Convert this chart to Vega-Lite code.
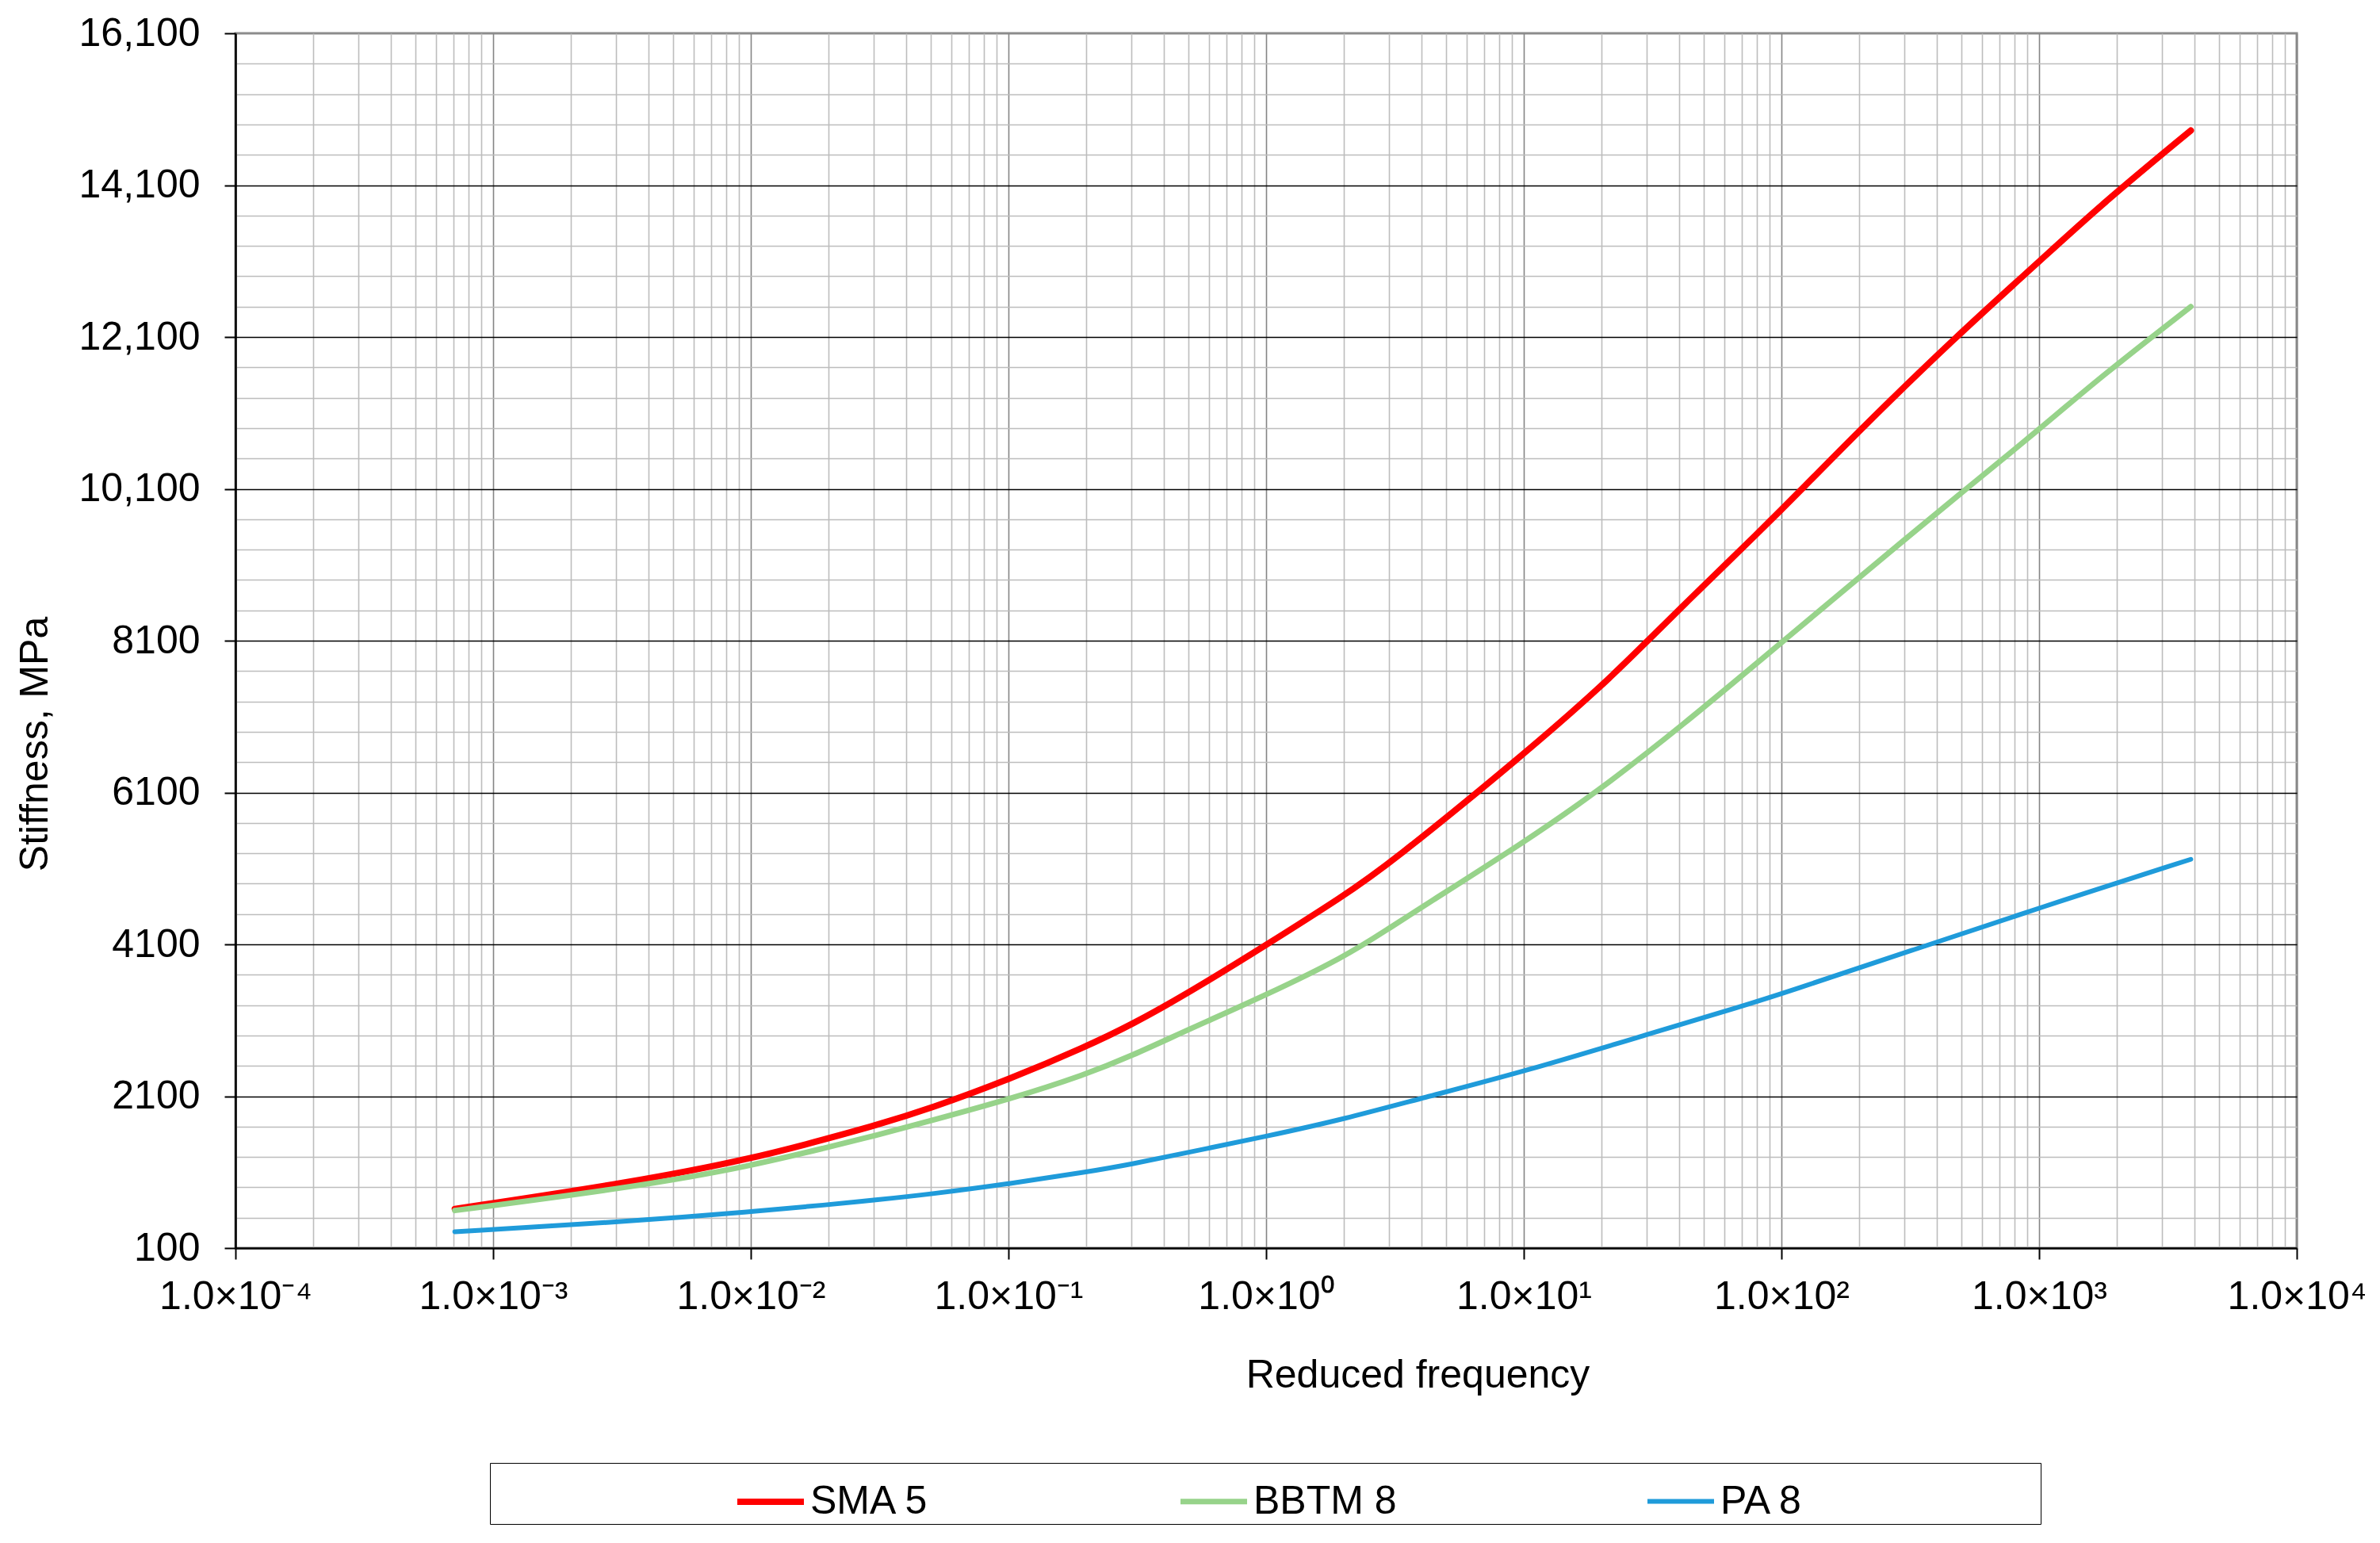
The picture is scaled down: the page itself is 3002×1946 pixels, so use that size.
{
  "$schema": "https://vega.github.io/schema/vega-lite/v6.json",
  "width": 2600,
  "height": 1532,
  "autosize": "none",
  "padding": {"left": 297, "top": 42, "right": 105, "bottom": 372},
  "background": "white",
  "config": {
    "view": {"stroke": "#8c8c8c", "strokeWidth": 3},
    "font": "Liberation Sans"
  },
  "data": {
    "values": [
      {"series": "SMA 5", "freq": 0.00071, "stiffness": 615},
      {"series": "SMA 5", "freq": 0.00353, "stiffness": 970},
      {"series": "SMA 5", "freq": 0.01, "stiffness": 1273},
      {"series": "SMA 5", "freq": 0.02, "stiffness": 1544},
      {"series": "SMA 5", "freq": 0.03, "stiffness": 1708},
      {"series": "SMA 5", "freq": 0.05, "stiffness": 1940},
      {"series": "SMA 5", "freq": 0.1, "stiffness": 2317},
      {"series": "SMA 5", "freq": 0.2, "stiffness": 2753},
      {"series": "SMA 5", "freq": 0.3, "stiffness": 3040},
      {"series": "SMA 5", "freq": 0.5, "stiffness": 3460},
      {"series": "SMA 5", "freq": 1, "stiffness": 4090},
      {"series": "SMA 5", "freq": 2, "stiffness": 4740},
      {"series": "SMA 5", "freq": 2.96, "stiffness": 5138},
      {"series": "SMA 5", "freq": 10, "stiffness": 6600},
      {"series": "SMA 5", "freq": 20.3, "stiffness": 7517},
      {"series": "SMA 5", "freq": 30.3, "stiffness": 8100},
      {"series": "SMA 5", "freq": 40.6, "stiffness": 8530},
      {"series": "SMA 5", "freq": 84.5, "stiffness": 9576},
      {"series": "SMA 5", "freq": 120.5, "stiffness": 10100},
      {"series": "SMA 5", "freq": 200, "stiffness": 10864},
      {"series": "SMA 5", "freq": 474, "stiffness": 12100},
      {"series": "SMA 5", "freq": 1000, "stiffness": 13092},
      {"series": "SMA 5", "freq": 1738, "stiffness": 13841},
      {"series": "SMA 5", "freq": 3880, "stiffness": 14820},
      {"series": "BBTM 8", "freq": 0.00071, "stiffness": 595},
      {"series": "BBTM 8", "freq": 0.00353, "stiffness": 903},
      {"series": "BBTM 8", "freq": 0.01, "stiffness": 1179},
      {"series": "BBTM 8", "freq": 0.02, "stiffness": 1430},
      {"series": "BBTM 8", "freq": 0.03, "stiffness": 1576},
      {"series": "BBTM 8", "freq": 0.05, "stiffness": 1778},
      {"series": "BBTM 8", "freq": 0.1, "stiffness": 2056},
      {"series": "BBTM 8", "freq": 0.2, "stiffness": 2387},
      {"series": "BBTM 8", "freq": 0.3, "stiffness": 2630},
      {"series": "BBTM 8", "freq": 0.5, "stiffness": 2979},
      {"series": "BBTM 8", "freq": 1, "stiffness": 3432},
      {"series": "BBTM 8", "freq": 2.02, "stiffness": 3936},
      {"series": "BBTM 8", "freq": 2.96, "stiffness": 4298},
      {"series": "BBTM 8", "freq": 4.02, "stiffness": 4590},
      {"series": "BBTM 8", "freq": 10, "stiffness": 5442},
      {"series": "BBTM 8", "freq": 19.1, "stiffness": 6100},
      {"series": "BBTM 8", "freq": 40.6, "stiffness": 6961},
      {"series": "BBTM 8", "freq": 102, "stiffness": 8100},
      {"series": "BBTM 8", "freq": 333, "stiffness": 9559},
      {"series": "BBTM 8", "freq": 522, "stiffness": 10100},
      {"series": "BBTM 8", "freq": 1000, "stiffness": 10882},
      {"series": "BBTM 8", "freq": 1738, "stiffness": 11578},
      {"series": "BBTM 8", "freq": 3880, "stiffness": 12500},
      {"series": "PA 8", "freq": 0.00071, "stiffness": 315},
      {"series": "PA 8", "freq": 0.00353, "stiffness": 455},
      {"series": "PA 8", "freq": 0.01, "stiffness": 577},
      {"series": "PA 8", "freq": 0.02, "stiffness": 671},
      {"series": "PA 8", "freq": 0.03, "stiffness": 730},
      {"series": "PA 8", "freq": 0.05, "stiffness": 810},
      {"series": "PA 8", "freq": 0.1, "stiffness": 945},
      {"series": "PA 8", "freq": 0.2, "stiffness": 1100},
      {"series": "PA 8", "freq": 0.3, "stiffness": 1204},
      {"series": "PA 8", "freq": 0.5, "stiffness": 1361},
      {"series": "PA 8", "freq": 1, "stiffness": 1570},
      {"series": "PA 8", "freq": 2.02, "stiffness": 1800},
      {"series": "PA 8", "freq": 4.02, "stiffness": 2075},
      {"series": "PA 8", "freq": 10, "stiffness": 2422},
      {"series": "PA 8", "freq": 32, "stiffness": 2940},
      {"series": "PA 8", "freq": 72, "stiffness": 3296},
      {"series": "PA 8", "freq": 102, "stiffness": 3458},
      {"series": "PA 8", "freq": 320, "stiffness": 4020},
      {"series": "PA 8", "freq": 1000, "stiffness": 4580},
      {"series": "PA 8", "freq": 3880, "stiffness": 5220}
    ]
  },
  "layer": [
    {
      "mark": {"type": "line", "strokeOpacity": 0},
      "encoding": {
        "detail": {"field": "series", "type": "nominal"},
        "x": {
          "field": "freq", "type": "quantitative",
          "scale": {"type": "log", "domain": [0.0001, 10000]},
          "axis": {
            "orient": "bottom", "title": null, "labels": false, "ticks": false, "domain": false,
            "grid": true, "gridColor": "#bdbdbd", "gridWidth": 1.6,
            "values": [0.0002,0.0003,0.0004,0.0005,0.0006,0.0007,0.0008,0.0009,
                       0.002,0.003,0.004,0.005,0.006,0.007,0.008,0.009,
                       0.02,0.03,0.04,0.05,0.06,0.07,0.08,0.09,
                       0.2,0.3,0.4,0.5,0.6,0.7,0.8,0.9,
                       2,3,4,5,6,7,8,9,
                       20,30,40,50,60,70,80,90,
                       200,300,400,500,600,700,800,900,
                       2000,3000,4000,5000,6000,7000,8000,9000]
          }
        },
        "y": {
          "field": "stiffness", "type": "quantitative",
          "scale": {"domain": [100, 16100], "nice": false, "zero": false},
          "axis": {
            "orient": "left", "title": null, "labels": false, "ticks": false, "domain": false,
            "grid": true, "gridColor": "#bdbdbd", "gridWidth": 1.6,
            "values": [500,900,1300,1700,2500,2900,3300,3700,4500,4900,5300,5700,6500,6900,7300,7700,8500,8900,9300,9700,10500,10900,11300,11700,12500,12900,13300,13700,14500,14900,15300,15700]
          }
        }
      }
    },
    {
      "mark": {"type": "line", "strokeOpacity": 0},
      "encoding": {
        "detail": {"field": "series", "type": "nominal"},
        "x": {
          "field": "freq", "type": "quantitative",
          "scale": {"type": "log", "domain": [0.0001, 10000]},
          "axis": {
            "orient": "bottom", "title": null, "labels": false, "ticks": false, "domain": false,
            "grid": true, "gridColor": "#858585", "gridWidth": 1.6,
            "values": [0.0001, 0.001, 0.01, 0.1, 1, 10, 100, 1000, 10000]
          }
        },
        "y": {
          "field": "stiffness", "type": "quantitative",
          "scale": {"domain": [100, 16100], "nice": false, "zero": false},
          "axis": {
            "orient": "left", "title": null, "labels": false, "ticks": false, "domain": false,
            "grid": true, "gridColor": "#000000", "gridWidth": 1.6,
            "values": [2100, 4100, 6100, 8100, 10100, 12100, 14100]
          }
        }
      }
    },
    {
      "mark": {"type": "line", "interpolate": "basis", "strokeCap": "round", "strokeJoin": "round"},
      "encoding": {
        "x": {
          "field": "freq", "type": "quantitative",
          "scale": {"type": "log", "domain": [0.0001, 10000]},
          "axis": {
            "orient": "bottom", "grid": false,
            "values": [0.0001, 0.001, 0.01, 0.1, 1, 10, 100, 1000, 10000],
            "labelExpr": "'1.0×10' + (datum.value < 0.0005 ? '⁻⁴' : datum.value < 0.005 ? '⁻³' : datum.value < 0.05 ? '⁻²' : datum.value < 0.5 ? '⁻¹' : datum.value < 5 ? '⁰' : datum.value < 50 ? '¹' : datum.value < 500 ? '²' : datum.value < 5000 ? '³' : '⁴')",
            "labelFont": "Liberation Sans", "labelFontSize": 50, "labelColor": "#000000",
            "labelPadding": 22, "labelFlush": false, "labelOverlap": false, "labelLimit": 500,
            "tickSize": 14, "tickColor": "#000000", "tickWidth": 2,
            "domain": true, "domainColor": "#000000", "domainWidth": 2.5,
            "title": "Reduced frequency", "titleFont": "Liberation Sans", "titleFontSize": 50,
            "titleFontWeight": "normal", "titleColor": "#000000",
            "titleX": 1491, "titleY": 160, "titleBaseline": "middle", "titleAlign": "center"
          }
        },
        "y": {
          "field": "stiffness", "type": "quantitative",
          "scale": {"domain": [100, 16100], "nice": false, "zero": false},
          "axis": {
            "orient": "left", "grid": false,
            "values": [100, 2100, 4100, 6100, 8100, 10100, 12100, 14100, 16100],
            "labelExpr": "datum.value >= 10000 ? format(datum.value, ',') : format(datum.value, 'd')",
            "labelFont": "Liberation Sans", "labelFontSize": 50, "labelColor": "#000000",
            "labelPadding": 31, "labelFlush": false, "labelOverlap": false, "labelLimit": 500,
            "tickSize": 14, "tickColor": "#000000", "tickWidth": 2,
            "domain": true, "domainColor": "#000000", "domainWidth": 2.5,
            "title": "Stiffness, MPa", "titleFont": "Liberation Sans", "titleFontSize": 50,
            "titleFontWeight": "normal", "titleColor": "#000000",
            "titleX": -253, "titleY": 896, "titleBaseline": "middle", "titleAlign": "center", "titleAngle": 270
          }
        },
        "color": {
          "field": "series", "type": "nominal",
          "scale": {"domain": ["SMA 5", "BBTM 8", "PA 8"], "range": ["#ff0000", "#97d38a", "#1f9bda"]},
          "legend": {
            "orient": "none", "legendX": 321, "legendY": 1803,
            "direction": "horizontal", "columns": 3,
            "title": " ", "titleOrient": "right", "titlePadding": 296, "titleFontSize": 50,
            "symbolType": "stroke", "symbolSize": 7056, "symbolStrokeWidth": 7, "symbolOffset": 305,
            "labelFont": "Liberation Sans", "labelFontSize": 50, "labelColor": "#000000", "labelOffset": 4, "labelLimit": 500,
            "columnPadding": 7, "padding": 3,
            "strokeColor": "#000000", "fillColor": "#ffffff"
          }
        },
        "strokeWidth": {
          "field": "series", "type": "nominal",
          "scale": {"domain": ["SMA 5", "BBTM 8", "PA 8"], "range": [8, 6, 6]},
          "legend": null
        }
      }
    }
  ],
  "resolve": {"axis": {"x": "independent", "y": "independent"}}
}
